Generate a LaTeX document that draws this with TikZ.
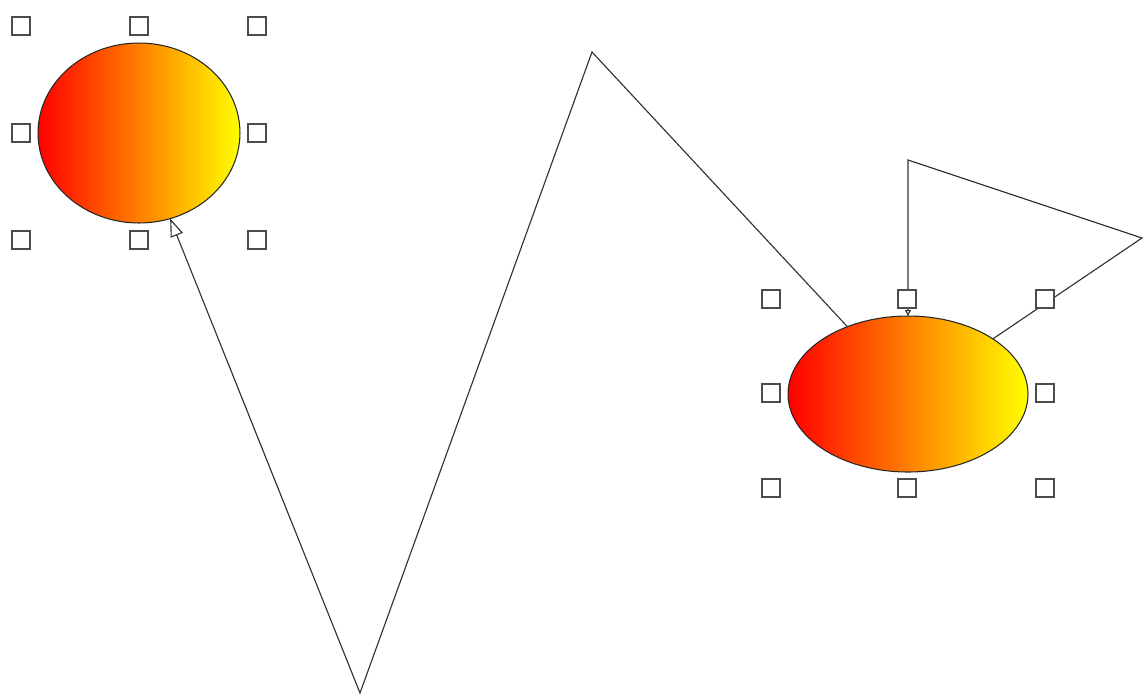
\documentclass[tikz,border=0pt]{standalone}
\usepackage{tikz}
\usetikzlibrary{shapes.geometric, arrows.meta, positioning}
\tikzset{
    nodo_elipse/.style={ellipse, draw=black!85, line width=0.6pt, left color=red, right color=yellow, inner sep=0pt, outer sep=0pt},
    tirador/.style={rectangle, draw=gray!60!black, line width=0.8pt, fill=white, minimum size=0.36cm, inner sep=0pt},
    conector/.style={draw, line width=0.65pt, color=black!80}
}
\begin{document}
\begin{tikzpicture}[x=0.02cm, y=-0.02cm]
    \useasboundingbox (0,0) rectangle (1144,698);

    \node[nodo_elipse, minimum width=4.04cm, minimum height=3.6cm] (e1) at (139,133) {};
    \node[nodo_elipse, minimum width=4.8cm, minimum height=3.12cm] (e2) at (908,394) {};

    \coordinate (p1) at (592,52);
    \coordinate (p2) at (360,693);
    \coordinate (q1) at (1142,238);
    \coordinate (q2) at (908,160);

    \draw[conector, -{Triangle[open, fill=white, length=0.36cm, width=0.26cm]}] (e2.132) -- (p1) -- (p2) -- (e1.-70);
    \draw[conector, -{Triangle[open, fill=white, length=0.12cm, width=0.12cm]}] (e2.33) -- (q1) -- (q2) -- (e2.north);

    % tiradores de seleccion
    \foreach \hx/\hy/\i in {21/26/a, 139/26/b, 257/26/c, 21/133/d, 257/133/e, 21/240/f, 139/240/g, 257/240/h}
        \node[tirador] (t\i) at (\hx,\hy) {};
    \foreach \hx/\hy/\i in {771/299/a, 907/299/b, 1045/299/c, 771/393/d, 1045/393/e, 771/488/f, 907/488/g, 1045/488/h}
        \node[tirador] (u\i) at (\hx,\hy) {};
\end{tikzpicture}
\end{document}
